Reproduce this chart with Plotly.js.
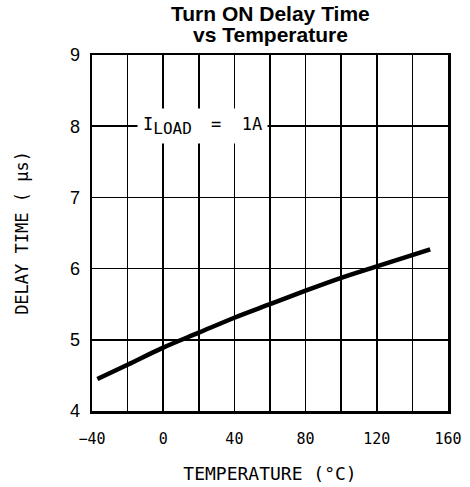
<!DOCTYPE html>
<html><head><meta charset="utf-8">
<script src="https://cdn.plot.ly/plotly-3.0.1.min.js"></script>
<style>html,body{margin:0;padding:0;background:#fff}#c{width:470px;height:487px}</style>
</head><body><div id="c"></div>
<script>
var temperature = [-37, -20, 0, 20, 40, 60, 80, 100, 120, 150];
var delayTime = [4.45, 4.65, 4.89, 5.1, 5.31, 5.5, 5.69, 5.87, 6.03, 6.27];
var xTickVals = [-40, 0, 40, 80, 120, 160];
var xTickText = ['\u221240', '0', '40', '80', '120', '160'];
var yTickVals = [4, 5, 6, 7, 8, 9];
var yTickText = ['4', '5', '6', '7', '8', '9'];
var titleLines = ['Turn ON Delay Time', 'vs Temperature'];

var mono = 'DejaVu Sans Mono';
var trace = {x: temperature, y: delayTime, mode: 'lines', line: {color: '#000', width: 4.5, shape: 'spline'}, hoverinfo: 'none'};
var layout = {
  width: 470, height: 487,
  margin: {l: 92, r: 22, t: 55, b: 76},
  paper_bgcolor: '#fff', plot_bgcolor: '#fff',
  showlegend: false,
  xaxis: {range: [-40, 160], tickvals: xTickVals, ticktext: xTickText, showgrid: true, gridcolor: '#000', gridwidth: 1.5,
    minor: {tick0: -40, dtick: 20, showgrid: true, gridcolor: '#000', gridwidth: 1.5, ticks: ''},
    showline: true, linecolor: '#000', linewidth: 2.5, mirror: true, zeroline: false, ticks: '', ticklabelstandoff: 12,
    tickfont: {family: mono, size: 15, color: '#000'},
    title: {text: 'TEMPERATURE (\u00b0C)', font: {family: mono, size: 18, color: '#000'}, standoff: 21}},
  yaxis: {range: [4, 9], tickvals: yTickVals, ticktext: yTickText, showgrid: true, gridcolor: '#000', gridwidth: 1.5,
    showline: true, linecolor: '#000', linewidth: 2.5, mirror: true, zeroline: false, ticks: '', ticklabelstandoff: 6,
    tickfont: {family: 'Liberation Sans', size: 18, color: '#000'},
    title: {text: 'DELAY TIME ( \u03bcs)', font: {family: mono, size: 17, color: '#000'}, standoff: 37}},
  annotations: [
    {x: 0.5, y: 13, xref: 'paper', yref: 'paper', yanchor: 'middle', showarrow: false, text: '<b>' + titleLines[0] + '</b>',
      font: {family: 'Liberation Sans', size: 21, color: '#000'}},
    {x: 0.5, y: 34, xref: 'paper', yref: 'paper', yanchor: 'middle', showarrow: false, text: '<b>' + titleLines[1] + '</b>',
      font: {family: 'Liberation Sans', size: 21, color: '#000'}},
    {x: 22, y: 8, xref: 'x', yref: 'y', showarrow: false,
      text: 'I<sub><span style="font-size:16px">LOAD\u00a0\u00a0</span></sub>=\u00a0\u00a01A',
      font: {family: mono, size: 17, color: '#000'}, bgcolor: '#fff', borderpad: 5}
  ]
};
// convert title pixel rows to paper coordinates
var plotH = layout.height - layout.margin.t - layout.margin.b;
layout.annotations[0].y = 1 + (layout.margin.t - 13) / plotH;
layout.annotations[1].y = 1 + (layout.margin.t - 34) / plotH;
Plotly.newPlot('c', [trace], layout, {staticPlot: true, displayModeBar: false});
</script></body></html>
